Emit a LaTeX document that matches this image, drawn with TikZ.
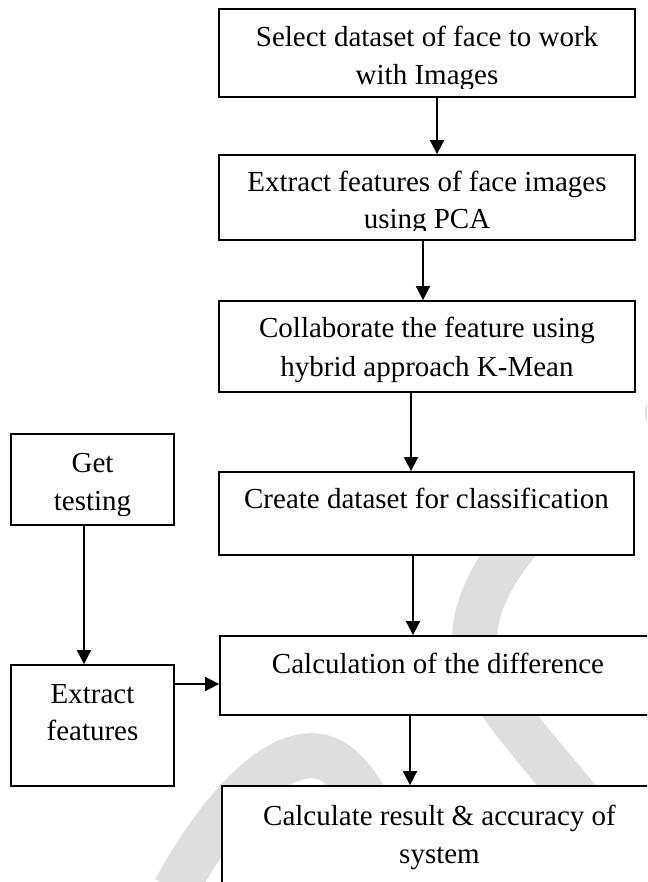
\documentclass[tikz,border=0pt]{standalone}
\usepackage{fontspec}
\setmainfont{Liberation Serif}
\usetikzlibrary{arrows.meta}
\definecolor{wmgray}{RGB}{222,222,222}
\begin{document}
\begin{tikzpicture}[x=1pt,y=-1pt,
  box/.style={draw, line width=1.8pt, fill=white, inner sep=0pt},
  txt/.style={anchor=base, inner sep=0pt, font=\fontsize{29pt}{38pt}\selectfont},
  arr/.style={line width=1.8pt, -{Triangle[length=14pt,width=14pt]}},
  wm/.style={draw=wmgray, line width=45pt}]
\clip (0,0) rectangle (647,882);
\fill[white] (0,0) rectangle (647,882);
% watermark
\draw[wm] (560,500) .. controls (490,560) and (465,620) .. (478,660) .. controls (490,700) and (530,740) .. (620,850);
\draw[wm] (175,890) .. controls (230,790) and (290,740) .. (330,760) .. controls (350,770) and (370,800) .. (390,850);
\fill[wmgray] (670,413) circle (25pt);
% boxes
\node[box, minimum width=416pt, minimum height=88pt] (b1) at (427,53) {};
\node[box, minimum width=416pt, minimum height=85pt] (b2) at (427,197.5) {};
\node[box, minimum width=416pt, minimum height=91pt] (b3) at (427,346.5) {};
\node[box, minimum width=415pt, minimum height=83pt] (b4) at (426.5,513.5) {};
\node[box, minimum width=438pt, minimum height=79pt] (b5) at (439,675.5) {};
\node[box, minimum width=436pt, minimum height=134pt] (b6) at (440,853) {};
\node[box, minimum width=163pt, minimum height=91pt] (gt) at (92.5,479.5) {};
\node[box, minimum width=163pt, minimum height=121pt] (ef) at (92.5,725.5) {};
% texts
\begin{scope}
\clip ([yshift=9pt]b1.south west) rectangle (b1.north east);
\node[txt] (t1a) at (427,47) {Select dataset of face to work};
\node[txt] (t1b) at (427,85) {with Images};
\end{scope}
\begin{scope}
\clip ([yshift=10pt]b2.south west) rectangle (b2.north east);
\node[txt] (t2a) at (427,192) {Extract features of face images};
\node[txt] (t2b) at (427,229) {using PCA};
\end{scope}
\begin{scope}
\clip ([yshift=10pt]b3.south west) rectangle (b3.north east);
\node[txt] (t3a) at (427,337) {Collaborate the feature using};
\node[txt] (t3b) at (427,376) {hybrid approach K-Mean};
\end{scope}
\node[txt] (t4) at (426.5,508) {Create dataset for classification};
\node[txt] (t5) at (438,673) {Calculation of the difference};
\node[txt] (t6a) at (439.5,825) {Calculate result \& accuracy of};
\node[txt] (t6b) at (439.5,863) {system};
\begin{scope}
\clip ([yshift=10pt]gt.south west) rectangle (gt.north east);
\node[txt] (tga) at (92.5,472) {Get};
\node[txt] (tgb) at (92.5,510) {testing};
\end{scope}
\node[txt] (tea) at (92.5,703) {Extract};
\node[txt] (teb) at (92.5,740) {features};
% arrows
\draw[arr] ([xshift=10pt]b1.south) -- ([xshift=10pt]b1.south |- b2.north);
\draw[arr] ([xshift=-4pt]b2.south) -- ([xshift=-4pt]b2.south |- b3.north);
\draw[arr] ([xshift=-16pt]b3.south) -- ([xshift=-16pt]b3.south |- b4.north);
\draw[arr] ([xshift=-13.5pt]b4.south) -- ([xshift=-13.5pt]b4.south |- b5.north);
\draw[arr] ([xshift=-29pt]b5.south) -- ([xshift=-29pt]b5.south |- b6.north);
\draw[arr] ([xshift=-8.5pt]gt.south) -- ([xshift=-8.5pt]gt.south |- ef.north);
\draw[arr] ([yshift=41.5pt]ef.east) -- ([yshift=41.5pt]ef.east -| b5.west);
\end{tikzpicture}
\end{document}
